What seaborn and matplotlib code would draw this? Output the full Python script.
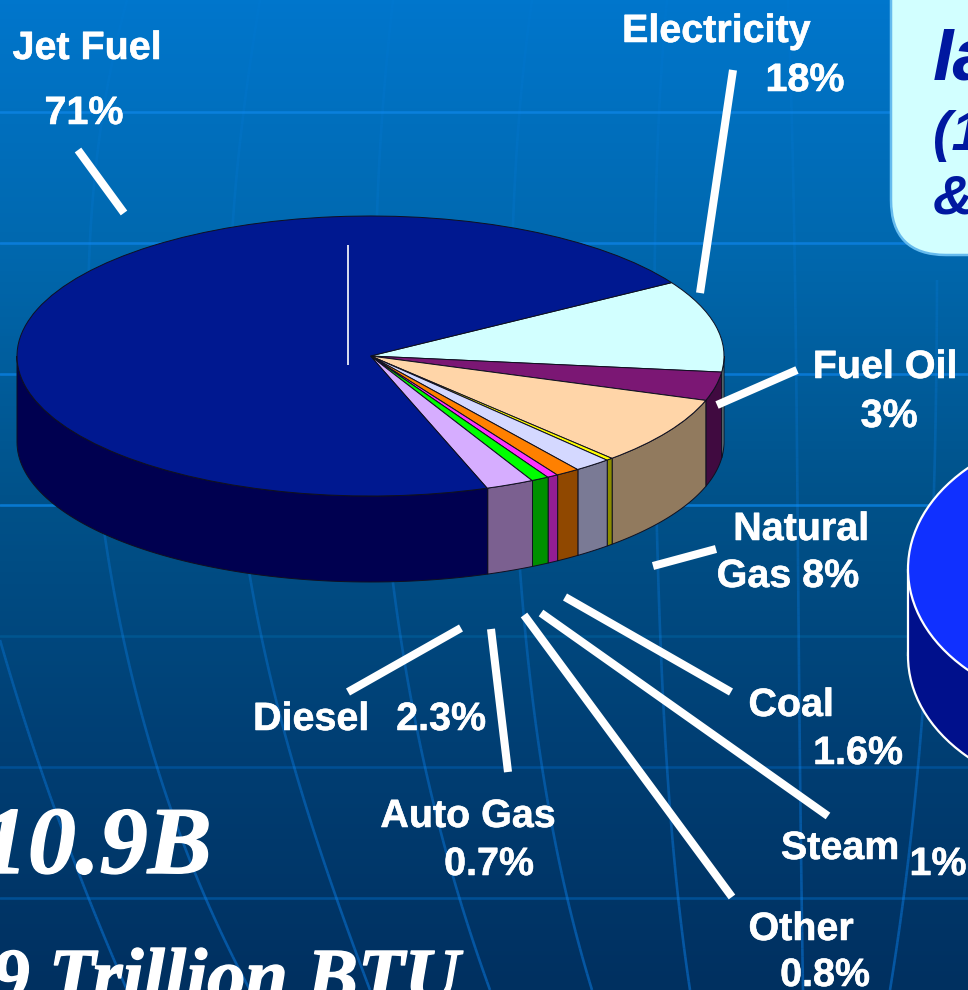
import numpy as np
import seaborn as sns
import matplotlib.pyplot as plt
import matplotlib.patheffects as pe
from matplotlib.collections import LineCollection
from matplotlib.patches import Ellipse, FancyBboxPatch

W, H = 968, 990

# Slices as they are drawn on the disc (share of 360 degrees, clockwise from the cyan one)
slice_names = ['Electricity', 'Fuel Oil', 'Natural Gas', 'Yellow', 'Coal', 'Steam', 'Other', 'Auto Gas', 'Diesel', 'Jet Fuel']
slice_shares = [10.6, 3.3, 7.9, 0.3, 1.7, 1.1, 0.5, 0.8, 2.2, 71.5]
top_colors = ['#D2FFFF', '#7B1774', '#FFD5A8', '#FFFF00', '#D4D8FF', '#FF8000', '#FF33FF', '#00FF00', '#D6ADFF', '#001890']
side_colors = ['#6E8A8A', '#400A40', '#917A5E', '#8C8C00', '#7A7A95', '#904800', '#931D93', '#009000', '#7B6090', '#000050']

# Labels: text, x pixel, baseline pixel
label_texts = ['Jet Fuel', '71%', 'Electricity', '18%', 'Fuel Oil', '3%', 'Natural', 'Gas 8%',
               'Coal', '1.6%', 'Steam', '1%', 'Other', '0.8%', 'Auto Gas', '0.7%', 'Diesel', '2.3%']
label_x = [87, 84, 716, 805, 885, 889, 801, 788, 791, 858, 840, 938, 801, 825, 468, 489, 311, 441]
label_y = [59, 124, 42, 91, 378, 427, 540, 587, 716, 764, 859, 875, 940, 986, 827, 875, 730, 730]

# Leader lines from the labels to the pie
leader_start = [(78, 150), (733, 70), (797, 370), (716, 549), (731, 692), (828, 816), (732, 897), (508, 772), (348, 692)]
leader_end = [(124, 213), (700, 293), (717, 405), (653, 566), (565, 597), (541, 613), (524, 615), (491, 629), (461, 628)]

# Background grid
parallel_y = [112, 243, 374, 505, 636, 767, 898]
parallel_colors = ['#0A80DC', '#0A7CD8', '#0878D2', '#0878D0', '#00558F', '#004F94', '#004F94']
meridians = [
    [(0, 640), (40, 767), (127, 990)],
    [(127, 0), (90, 240), (105, 537), (157, 767), (250, 990)],
    [(260, 0), (233, 220), (250, 577), (293, 763), (370, 990)],
    [(393, 0), (377, 215), (393, 583), (425, 767), (490, 990)],
    [(532, 0), (513, 225), (520, 570), (542, 767), (592, 990)],
    [(667, 0), (655, 243), (658, 570), (667, 767), (690, 990)],
    [(788, 0), (795, 280), (798, 560), (800, 767), (803, 990)],
    [(937, 280), (935, 450), (918, 767), (890, 990)],
]

# Pie geometry in pixels
cx, cy, rx, ry, depth = 370.5, 356, 353.5, 140, 86
start_angle = 31.6

sns.set_theme(style='white')
plt.rcParams['font.family'] = ['Liberation Sans', 'DejaVu Sans']

fig = plt.figure(figsize=(W / 100, H / 100), dpi=100)

# Background with the gradient and the globe grid
ax_bg = fig.add_axes([0, 0, 1, 1], zorder=0)
bg_cmap = sns.blend_palette(['#0076CC', '#0068AE', '#00528A', '#003F74', '#003060'], as_cmap=True)
ax_bg.imshow(np.linspace(0, 1, 256).reshape(-1, 1), cmap=bg_cmap, aspect='auto', extent=(0, W, H, 0))

for y, col in zip(parallel_y, parallel_colors):
    ax_bg.plot([0, W], [y, y], color=col, lw=1.9, zorder=2)

for pts in meridians:
    xs, ys = zip(*pts)
    coef = np.polyfit(ys, xs, min(len(pts) - 1, 4))
    yy = np.linspace(min(ys), max(ys), 120)
    xx = np.polyval(coef, yy)
    segs = np.stack([np.column_stack([xx[:-1], yy[:-1]]), np.column_stack([xx[1:], yy[1:]])], axis=1)
    # the grid fades out towards the top of the slide
    rgba = np.tile([0.05, 0.55, 1.0, 0.0], (len(segs), 1))
    rgba[:, 3] = 0.05 + 0.38 * yy[:-1] / H
    ax_bg.add_collection(LineCollection(segs, colors=rgba, linewidths=1.9, zorder=2))

# Second pie, cut off at the right edge
ax_bg.add_patch(Ellipse((1103, 656), 390, 280, fc='#00108C', ec='white', lw=1.6, zorder=3))
ax_bg.fill_between([908, 1200], [569, 569], [656, 656], color='#00108C', lw=0, zorder=3)
ax_bg.plot([908, 908], [569, 656], color='white', lw=1.6, zorder=3)
ax_bg.add_patch(Ellipse((1103, 569), 390, 280, fc='#1030FF', ec='white', lw=1.6, zorder=3))

ax_bg.set_xlim(0, W)
ax_bg.set_ylim(H, 0)
ax_bg.axis('off')

# Main pie, the unit circle is squashed by the axes limits
ax_pie = fig.add_axes([0, 0, 1, 1], zorder=1)
ax_pie.patch.set_alpha(0)
ax_pie.pie(slice_shares, colors=top_colors, startangle=start_angle, counterclock=False,
           wedgeprops=dict(edgecolor='#101020', linewidth=0.7))

edges = start_angle - np.cumsum([0] + slice_shares) * 3.6
drop = depth / ry
for a0, a1, col in zip(edges[:-1], edges[1:], side_colors):
    # only the front half of the rim is visible
    lo, hi = max(a1, -180), min(a0, 0)
    if hi <= lo:
        continue
    t = np.radians(np.linspace(lo, hi, 80))
    xs = np.concatenate([np.cos(t), np.cos(t)[::-1]])
    ys = np.concatenate([np.sin(t), np.sin(t)[::-1] - drop])
    ax_pie.fill(xs, ys, facecolor=col, edgecolor='#101020', linewidth=0.7, zorder=0.5)

ax_pie.set_aspect('auto')
ax_pie.set_xlim(-cx / rx, (W - cx) / rx)
ax_pie.set_ylim((cy - H) / ry, cy / ry)
ax_pie.axis('off')

# Overlay: box, leader lines and text
ax_top = fig.add_axes([0, 0, 1, 1], zorder=2)
ax_top.patch.set_alpha(0)
ax_top.set_xlim(0, W)
ax_top.set_ylim(H, 0)
ax_top.axis('off')

ax_top.add_patch(FancyBboxPatch((891, -60), 200, 315, boxstyle='round,pad=0,rounding_size=55',
                                fc='#D2FFFF', ec='#66BBEE', lw=1.8))
navy = '#0018A0'
ax_top.text(933, 80, 'Ia', color=navy, fontsize=53, fontweight='bold', style='italic', va='baseline')
ax_top.text(933, 150, '(1', color=navy, fontsize=40, fontweight='bold', style='italic', va='baseline')
ax_top.text(933, 214, '&', color=navy, fontsize=40, fontweight='bold', style='italic', va='baseline')

for (x0, y0), (x1, y1) in zip(leader_start, leader_end):
    ax_top.plot([x0, x1], [y0, y1], color='white', lw=5.8, solid_capstyle='butt')
ax_top.plot([348, 348], [245, 365], color='white', lw=1.2, solid_capstyle='butt')

heavy = [pe.withStroke(linewidth=0.4, foreground='white')]
for txt, x, y in zip(label_texts, label_x, label_y):
    ax_top.text(x, y, txt, color='white', fontsize=28.4, fontweight='bold', ha='center', va='baseline',
                path_effects=heavy)

serif = ['Liberation Serif', 'DejaVu Serif']
heavy_big = [pe.withStroke(linewidth=1.0, foreground='white')]
ax_top.text(212, 873, '10.9B', color='white', fontsize=69, fontweight='bold', style='italic',
            family=serif, ha='right', va='baseline', path_effects=heavy_big)
ax_top.text(460, 1001, '9 Trillion BTU', color='white', fontsize=55, fontweight='bold', style='italic',
            family=serif, ha='right', va='baseline', path_effects=heavy_big)

fig.savefig('out.png', dpi=100)
